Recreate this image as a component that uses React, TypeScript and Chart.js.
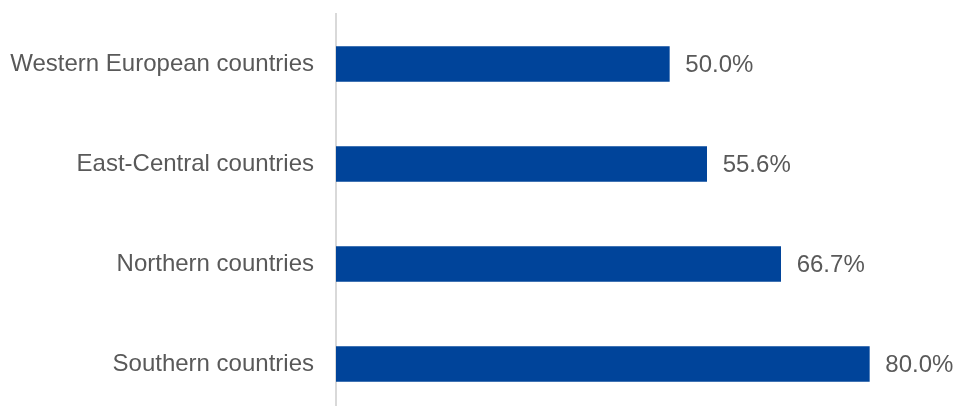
import React, { useEffect, useRef } from "react";
import { Chart, registerables } from "chart.js";

Chart.register(...registerables);

const categories = [
  "Western European countries",
  "East-Central countries",
  "Northern countries",
  "Southern countries",
];
const values = [50.0, 55.6, 66.7, 80.0];
const xMax = 90;

const FONT = "'Liberation Sans', Arial, sans-serif";
const TEXT = "#595959";

const labelPlugin = {
  id: "barLabels",
  afterDatasetsDraw(chart: any) {
    const { ctx } = chart;
    const meta = chart.getDatasetMeta(0);
    ctx.save();
    ctx.font = `24px ${FONT}`;
    ctx.fillStyle = TEXT;
    ctx.textAlign = "left";
    ctx.textBaseline = "middle";
    meta.data.forEach((bar: any, i: number) => {
      ctx.fillText(values[i].toFixed(1) + "%", bar.x + 16, bar.y + 1.5);
    });
    ctx.restore();
  },
};

export default function App() {
  const ref = useRef<HTMLCanvasElement>(null);
  useEffect(() => {
    document.documentElement.style.overflow = "hidden";
    document.body.style.margin = "0";
    document.body.style.overflow = "hidden";
    const chart = new Chart(ref.current!, {
      type: "bar",
      data: {
        labels: categories,
        datasets: [
          {
            data: values,
            backgroundColor: "#00449a",
            barThickness: 35,
          },
        ],
      },
      options: {
        indexAxis: "y",
        responsive: false,
        animation: false,
        devicePixelRatio: 1,
        layout: { padding: { top: 14, bottom: 6, left: 0, right: 19 } },
        plugins: { legend: { display: false }, tooltip: { enabled: false } },
        scales: {
          x: {
            display: false,
            min: 0,
            max: xMax,
          },
          y: {
            afterFit: (scale: any) => {
              scale.width = 336;
              scale.paddingTop = 0;
              scale.paddingBottom = 0;
            },
            grid: { display: false, drawTicks: false },
            border: { display: true, color: "#d9d9d9", width: 2 },
            ticks: {
              color: TEXT,
              padding: 22,
              font: { family: FONT, size: 24 },
            },
          },
        },
      },
      plugins: [labelPlugin],
    });
    return () => chart.destroy();
  }, []);
  return <canvas ref={ref} width={955} height={420} style={{ display: "block" }} />;
}
